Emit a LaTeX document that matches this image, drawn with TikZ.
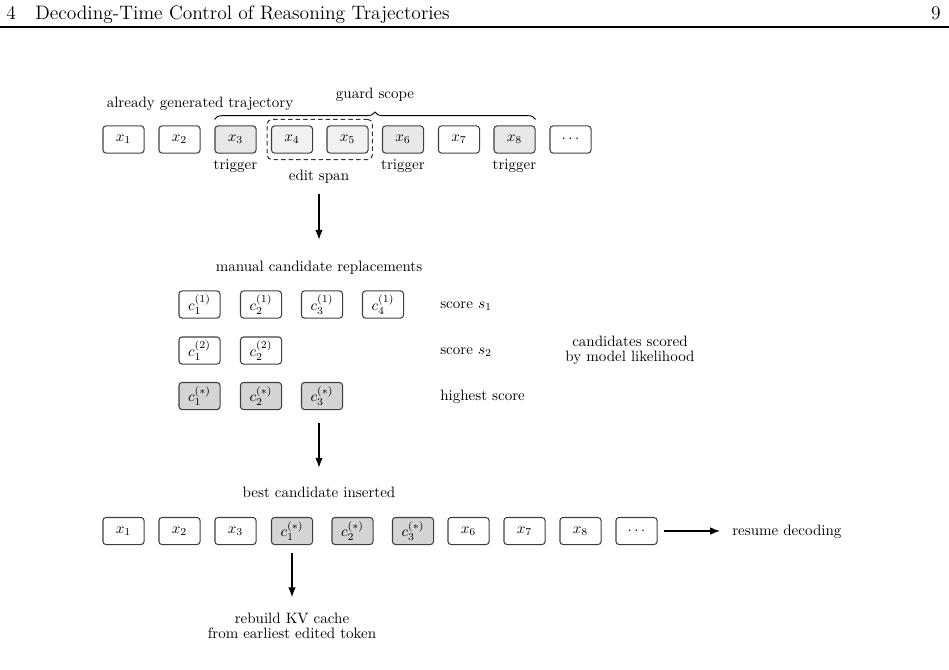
\documentclass[tikz,border=0pt]{standalone}
\usetikzlibrary{decorations.pathreplacing,arrows.meta,fit}
\tikzset{
  tok/.style={draw=black!75, line width=0.7pt, rounded corners=2pt, minimum width=27.3pt, minimum height=18pt, inner sep=0pt, font=\fontsize{10}{12}\selectfont},
  trigbox/.style={tok, fill=gray!18},
  editbox/.style={tok, fill=gray!11},
  bestbox/.style={tok, fill=gray!34},
  lbl/.style={font=\fontsize{10}{10}\selectfont, inner sep=0pt, align=center},
  hdr/.style={font=\fontsize{12.95}{15}\selectfont, inner sep=0pt},
  arr/.style={-{Latex[length=6.5pt,width=5pt]}, line width=0.8pt},
}
\begin{document}
\begin{tikzpicture}[x=0.665pt,y=-0.665pt]
\useasboundingbox (0,0) rectangle (949,669);
% header
\node[hdr, anchor=base west] (hnum) at (6,19) {4};
\node[hdr, anchor=base west] (htitle) at (35,19) {Decoding-Time Control of Reasoning Trajectories};
\node[hdr, anchor=base east] (hpage) at (941,19) {9};
\coordinate (rl) at (0,27);
\coordinate (rr) at (949,27);
\draw[line width=0.8pt] (rl) -- (rr);
% top row
\node[tok] (t1) at (123.5,139.5) {$x_1$};
\node[tok] (t2) at (179.5,139.5) {$x_2$};
\node[trigbox] (t3) at (235.5,139.5) {$x_3$};
\node[editbox] (t4) at (292,139.5) {$x_4$};
\node[editbox] (t5) at (347.5,139.5) {$x_5$};
\node[trigbox] (t6) at (403,139.5) {$x_6$};
\node[tok] (t7) at (459,139.5) {$x_7$};
\node[trigbox] (t8) at (514.5,139.5) {$x_8$};
\node[tok] (t9) at (570.5,139.5) {$\cdots$};
\node[draw=black!80, line width=0.7pt, dash pattern=on 3pt off 2pt, rounded corners=3pt, fit=(t4)(t5), inner xsep=2.5pt, inner ysep=4pt] (spanbox) {};
\node[lbl, anchor=base] (already) at (200,107) {already generated trajectory};
\node[lbl, anchor=base] (guard) at (375,98) {guard scope};
\draw[decorate, decoration={brace, amplitude=5pt}, line width=0.6pt] ([yshift=4pt]t3.north west) -- ([yshift=4pt]t8.north east);
\node[lbl, anchor=base] (tr3) at (235.5,169) {trigger};
\node[lbl, anchor=base] (tr6) at (403,169) {trigger};
\node[lbl, anchor=base] (tr8) at (514.5,169) {trigger};
\node[lbl, anchor=base] (editspan) at (319,180) {edit span};
% candidates
\node[lbl, anchor=base] (manual) at (319,271) {manual candidate replacements};
\draw[arr, shorten <=7pt, shorten >=13.7pt] (editspan.south) -- (manual.north);
\node[tok] (c11) at (199.5,304.5) {$c_1^{(1)}$};
\node[tok] (c12) at (261,304.5) {$c_2^{(1)}$};
\node[tok] (c13) at (322,304.5) {$c_3^{(1)}$};
\node[tok] (c14) at (383,304.5) {$c_4^{(1)}$};
\node[tok] (c21) at (199.5,350.5) {$c_1^{(2)}$};
\node[tok] (c22) at (261,350.5) {$c_2^{(2)}$};
\node[bestbox] (c31) at (199.5,396) {$c_1^{(*)}$};
\node[bestbox] (c32) at (261,396) {$c_2^{(*)}$};
\node[bestbox] (c33) at (322,396) {$c_3^{(*)}$};
\node[lbl, anchor=base west] (s1) at (440,308.5) {score $s_1$};
\node[lbl, anchor=base west] (s2) at (440,354.5) {score $s_2$};
\node[lbl, anchor=base west] (s3) at (440,400) {highest score};
\node[lbl, font=\fontsize{10}{10.2}\selectfont] (scored) at (630,350) {candidates scored\\by model likelihood};
% inserted
\coordinate (a2s) at (319,423);
\node[lbl, anchor=base] (bestlbl) at (319,497) {best candidate inserted};
\draw[arr, shorten >=12.4pt] (a2s) -- (bestlbl.north);
\node[tok] (b1) at (123.5,531) {$x_1$};
\node[tok] (b2) at (179.5,531) {$x_2$};
\node[tok] (b3) at (235.5,531) {$x_3$};
\node[bestbox] (b4) at (292,531) {$c_1^{(*)}$};
\node[bestbox] (b5) at (352.5,531) {$c_2^{(*)}$};
\node[bestbox] (b6) at (413,531) {$c_3^{(*)}$};
\node[tok] (b7) at (468.5,531) {$x_6$};
\node[tok] (b8) at (524.5,531) {$x_7$};
\node[tok] (b9) at (580.5,531) {$x_8$};
\node[tok] (b10) at (636.5,531) {$\cdots$};
\node[lbl, anchor=base west] (resume) at (732,535) {resume decoding};
\draw[arr, shorten <=4pt, shorten >=8pt] (b10.east) -- (resume.west |- b10.east);
\node[lbl, font=\fontsize{10}{10.2}\selectfont] (kv) at (292,626) {rebuild KV cache\\from earliest edited token};
\draw[arr, shorten <=5.6pt, shorten >=10.4pt] (b4.south) -- (kv.north);
\end{tikzpicture}
\end{document}
